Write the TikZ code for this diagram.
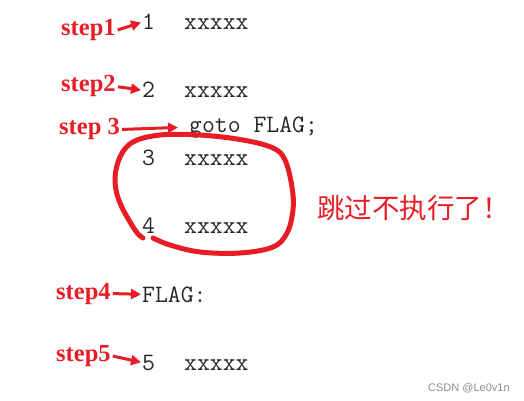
\documentclass[tikz,border=0pt]{standalone}
\usepackage{fontspec}
\newfontfamily\stepfont{Liberation Serif}
\newfontfamily\cjk{Noto Sans CJK SC}
\newfontfamily\markfont{Liberation Sans}
\usetikzlibrary{arrows.meta}
\definecolor{penred}{RGB}{232,28,36}

\begin{document}
\begin{tikzpicture}[x=1pt,y=-1pt,
    steplabel/.style={anchor=base west,inner sep=0pt,text=penred,
      font=\stepfont\bfseries\fontsize{24.5}{24.5}\selectfont},
    code/.style={anchor=base west,inner sep=0pt,text=black!85,
      font=\ttfamily\fontsize{25}{25}\selectfont},
    pointer/.style={draw=penred,line width=3pt,
      -{Triangle[length=10pt,width=10pt]},shorten <=2pt,shorten >=1pt}]
    \useasboundingbox (0,0) rectangle (524,401);
    % step labels
    \node[steplabel] (s1) at (61,36) {step1};
    \node[steplabel] (s2) at (61,92) {step2};
    \node[steplabel] (s3) at (59,135) {step 3};
    \node[steplabel] (s4) at (56,299) {step4};
    \node[steplabel] (s5) at (56,361) {step5};
    % code lines
    \node[code] (n1) at (142,30) {1};
    \node[code] (x1) at (184,30) {xxxxx};
    \node[code] (n2) at (142,98) {2};
    \node[code] (x2) at (184,98) {xxxxx};
    \node[code] (jump) at (189,132) {goto FLAG;};
    \node[code] (n3) at (142,165) {3};
    \node[code] (x3) at (184,165) {xxxxx};
    \node[code] (n4) at (142,233) {4};
    \node[code] (x4) at (184,233) {xxxxx};
    \node[code] (flag) at (142,302) {FLAG:};
    \node[code] (n5) at (142,370) {5};
    \node[code] (x5) at (184,370) {xxxxx};
    % arrows
    \draw[pointer] (s1.east) -- (n1.west);
    \draw[pointer] (s2.east) -- (n2.west);
    \draw[pointer,shorten >=11pt] (s3.east) -- (jump.west);
    \draw[pointer] (s4.east) -- (flag.west);
    \draw[pointer] (s5.east) -- (n5.west);
    % skipped block
    \draw[penred,line width=5pt,line cap=round]
      plot[smooth,tension=0.6] coordinates {
        (143,238) (135,230) (120,203) (115,180) (120,157) (133,142)
        (160,135) (200,135) (243,140) (273,148) (285,160) (292,187)
        (293,210) (287,233) (273,247) (240,253) (200,252) (170,245)
        (153,238)};
    \node[anchor=west,inner sep=0pt,text=penred,
      font=\cjk\fontsize{27.5}{27.5}\selectfont] (skip) at (317,208) {跳过不执行了！};
    \node[anchor=base west,inner sep=0pt,text=black!45,
      font=\markfont\fontsize{11}{11}\selectfont] (mark) at (428,391) {CSDN @Le0v1n};
\end{tikzpicture}
\end{document}
